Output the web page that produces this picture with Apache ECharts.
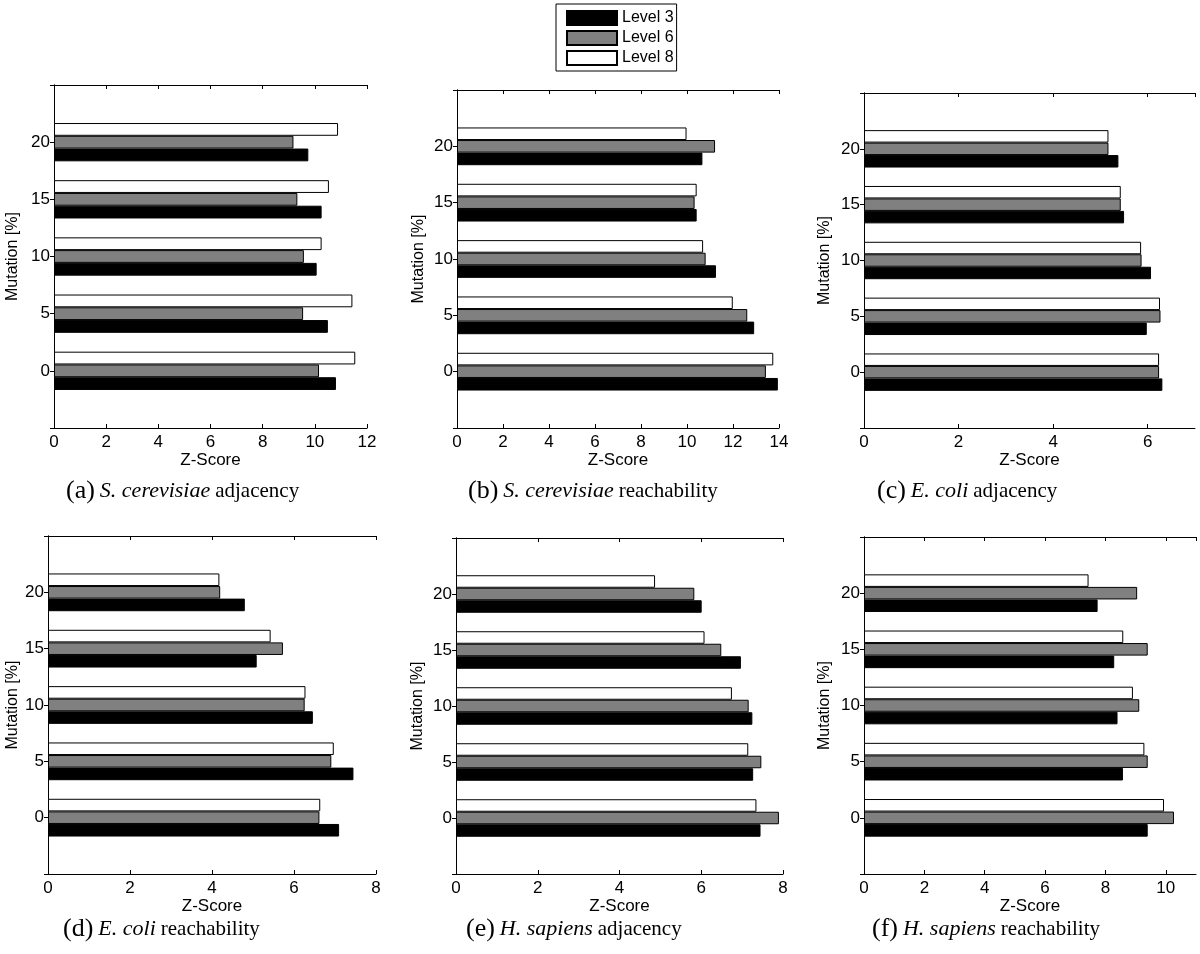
<!DOCTYPE html>
<html>
<head>
<meta charset="utf-8">
<script src="https://cdn.jsdelivr.net/npm/echarts@6/dist/echarts.min.js"></script>
<style>
html,body{margin:0;padding:0;background:#fff;}
#chart{width:1200px;height:954px;}
</style>
</head>
<body>
<div id="chart"></div>
<script>
// Mutation levels (y categories)
const categories = ['0', '5', '10', '15', '20'];
const seriesNames = ['Level 3', 'Level 6', 'Level 8'];

// (a) S. cerevisiae adjacency
const a_level3 = [10.81, 10.50, 10.07, 10.26, 9.75];
const a_level6 = [10.16, 9.55, 9.58, 9.33, 9.18];
const a_level8 = [11.55, 11.44, 10.26, 10.54, 10.89];
// (b) S. cerevisiae reachability
const b_level3 = [13.95, 12.92, 11.26, 10.42, 10.67];
const b_level6 = [13.43, 12.62, 10.81, 10.33, 11.22];
const b_level8 = [13.75, 11.99, 10.70, 10.42, 9.98];
// (c) E. coli adjacency
const c_level3 = [6.31, 5.98, 6.07, 5.50, 5.38];
const c_level6 = [6.24, 6.27, 5.87, 5.43, 5.17];
const c_level8 = [6.24, 6.26, 5.86, 5.43, 5.17];
// (d) E. coli reachability
const d_level3 = [7.10, 7.45, 6.46, 5.09, 4.80];
const d_level6 = [6.62, 6.91, 6.26, 5.73, 4.20];
const d_level8 = [6.64, 6.97, 6.28, 5.43, 4.18];
// (e) H. sapiens adjacency
const e_level3 = [7.45, 7.27, 7.25, 6.97, 6.01];
const e_level6 = [7.90, 7.47, 7.16, 6.49, 5.83];
const e_level8 = [7.35, 7.15, 6.75, 6.08, 4.87];
// (f) H. sapiens reachability
const f_level3 = [9.40, 8.58, 8.40, 8.29, 7.74];
const f_level6 = [10.27, 9.40, 9.12, 9.40, 9.05];
const f_level8 = [9.94, 9.29, 8.91, 8.59, 7.44];

// x-axis maxima
const xMax = [12, 14, 7, 8, 8, 11];
const xTickStep = 2;

const captionLetters = ['(a)', '(b)', '(c)', '(d)', '(e)', '(f)'];
const captionSpecies = ['S. cerevisiae', 'S. cerevisiae', 'E. coli', 'E. coli', 'H. sapiens', 'H. sapiens'];
const captionKinds = ['adjacency', 'reachability', 'adjacency', 'reachability', 'adjacency', 'reachability'];

const panelData = [
  [a_level3, a_level6, a_level8],
  [b_level3, b_level6, b_level8],
  [c_level3, c_level6, c_level8],
  [d_level3, d_level6, d_level8],
  [e_level3, e_level6, e_level8],
  [f_level3, f_level6, f_level8]
];

// layout
const grids = [
  {left: 54, top: 85, width: 313, height: 343},
  {left: 457, top: 90, width: 322, height: 338},
  {left: 864, top: 93, width: 331, height: 335},
  {left: 48, top: 536, width: 328, height: 338},
  {left: 456, top: 538, width: 327, height: 336},
  {left: 864, top: 537, width: 332, height: 337}
];
const yNameGap = [33, 30, 31, 27, 30, 31];
const captionPos = [[66, 478], [468, 478], [877, 478], [63, 916], [466, 916], [872, 916]];

const SANS = 'Liberation Sans, Arial, Helvetica, sans-serif';
const SERIF = 'Liberation Serif, Times New Roman, serif';
const colors = {'Level 3': '#000000', 'Level 6': '#808080', 'Level 8': '#ffffff'};

const yCats = ['-5'].concat(categories, ['25']);
const pad = arr => [null].concat(arr, [null]);

const option = {
  animation: false,
  backgroundColor: '#fff',
  textStyle: {fontFamily: SANS},
  legend: {
    data: seriesNames,
    orient: 'vertical',
    left: 556, top: 4,
    padding: [6, 3, 5, 10],
    icon: 'rect',
    itemWidth: 50, itemHeight: 14, itemGap: 4,
    borderColor: '#000', borderWidth: 1,
    textStyle: {fontSize: 16, color: '#000', fontFamily: SANS},
    selectedMode: false
  },
  grid: [], xAxis: [], yAxis: [], series: [], title: []
};

grids.forEach((g, i) => {
  option.grid.push(Object.assign({containLabel: false}, g));
  const axisLine = {show: true, lineStyle: {color: '#000', width: 1}};
  const tick = {show: true, inside: true, length: 4, lineStyle: {color: '#000'}};
  // bottom x axis
  option.xAxis.push({
    type: 'value', gridIndex: i, position: 'bottom',
    min: 0, max: xMax[i], interval: xTickStep,
    axisLine: axisLine, axisTick: tick, splitLine: {show: false},
    axisLabel: {fontSize: 17, color: '#000', margin: 6, fontFamily: SANS, showMaxLabel: xMax[i] % xTickStep === 0},
    name: 'Z-Score', nameLocation: 'middle', nameGap: 24,
    nameTextStyle: {fontSize: 17, color: '#000', fontFamily: SANS}
  });
  // top x axis (mirror ticks)
  option.xAxis.push({
    type: 'value', gridIndex: i, position: 'top',
    min: 0, max: xMax[i], interval: xTickStep,
    axisLine: axisLine, axisTick: tick, splitLine: {show: false},
    axisLabel: {show: false}
  });
  // left y axis
  option.yAxis.push({
    type: 'category', gridIndex: i, position: 'left', data: yCats, boundaryGap: false,
    axisLine: axisLine, axisTick: tick, splitLine: {show: false},
    axisLabel: {fontSize: 17, color: '#000', margin: 4, fontFamily: SANS,
      formatter: v => (v === '-5' || v === '25') ? '' : v},
    name: 'Mutation [%]', nameLocation: 'middle', nameGap: yNameGap[i], nameRotate: 90,
    nameTextStyle: {fontSize: 16, color: '#000', fontFamily: SANS}
  });
  // right y axis (mirror ticks)
  option.yAxis.push({
    type: 'category', gridIndex: i, position: 'right', data: yCats, boundaryGap: false,
    axisLine: axisLine, axisTick: tick, splitLine: {show: false},
    axisLabel: {show: false}
  });
  // push in reverse so Level 3 sits at the bottom of each group
  for (let s = seriesNames.length - 1; s >= 0; s--) {
    const name = seriesNames[s];
    option.series.push({
      type: 'bar', name: name,
      xAxisIndex: i * 2, yAxisIndex: i * 2,
      data: pad(panelData[i][s]),
      barGap: '0%', barCategoryGap: '33%',
      itemStyle: {color: colors[name], borderColor: '#000', borderWidth: 1},
      emphasis: {disabled: true}
    });
  }
  option.title.push({
    left: captionPos[i][0], top: captionPos[i][1], padding: 0,
    text: '{p|' + captionLetters[i] + '} {i|' + captionSpecies[i] + '} {r|' + captionKinds[i] + '}',
    textStyle: {
      fontWeight: 'normal',
      rich: {
        p: {fontFamily: SERIF, fontSize: 26, fontWeight: 'normal', color: '#000'},
        i: {fontFamily: SERIF, fontSize: 22, fontStyle: 'italic', fontWeight: 'normal', color: '#000'},
        r: {fontFamily: SERIF, fontSize: 21, fontWeight: 'normal', color: '#000'}
      }
    }
  });
});

const chart = echarts.init(document.getElementById('chart'), null, {renderer: 'canvas'});
chart.setOption(option);
</script>
</body>
</html>
